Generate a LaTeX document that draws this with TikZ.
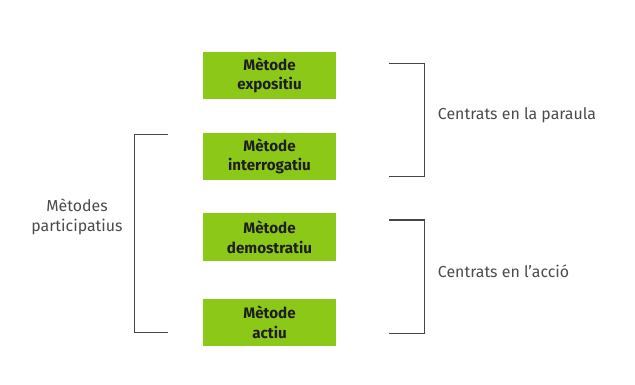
\documentclass[tikz,border=0pt]{standalone}
\usepackage{fontspec}
\setmainfont{Fira Sans}
\usepackage{tikz}
\usetikzlibrary{positioning}

\definecolor{metgreen}{RGB}{140,200,24}
\definecolor{mettext}{RGB}{30,30,30}
\definecolor{metline}{RGB}{70,70,70}

\begin{document}
\begin{tikzpicture}[x=0.025cm, y=-0.025cm]
  \tikzstyle{method} = [rectangle, minimum width=3.33cm, minimum height=1.18cm, inner sep=0pt, text centered, align=center, fill=metgreen, text=mettext, font=\bfseries\fontsize{10.8}{14}\selectfont]
  \tikzstyle{label} = [text=mettext!80, font=\fontsize{11.3}{14}\selectfont, align=center]
  \tikzstyle{bracket} = [draw=metline, line width=1pt]

  \useasboundingbox (0,0) rectangle (635,385);

  \node (expo) [method] at (269.5,75.5) {Mètode\\expositiu};
  \node (inter) [method] at (269.5,156.5) {Mètode\\interrogatiu};
  \node (demo) [method] at (269.5,237) {Mètode\\demostratiu};
  \node (actiu) [method] at (269.5,322.5) {Mètode\\actiu};

  % brackets
  \coordinate (partTop) at (168,134.5);
  \coordinate (partBot) at (168,332.5);
  \coordinate (parTop) at (389,63.5);
  \coordinate (parBot) at (389,176.5);
  \coordinate (accTop) at (389,220);
  \coordinate (accBot) at (389,333.5);

  \draw [bracket] (partTop) -- ++(-33.5,0) |- (partBot);
  \draw [bracket] (parTop) -- ++(35.5,0) |- (parBot);
  \draw [bracket] (accTop) -- ++(35.5,0) |- (accBot);

  \node (part) [label] at (77,217) {Mètodes\\participatius};
  \node (paraula) [label, anchor=west] at (433,115) {Centrats en la paraula};
  \node (accio) [label, anchor=west] at (433,271.5) {Centrats en l’acció};
\end{tikzpicture}
\end{document}
